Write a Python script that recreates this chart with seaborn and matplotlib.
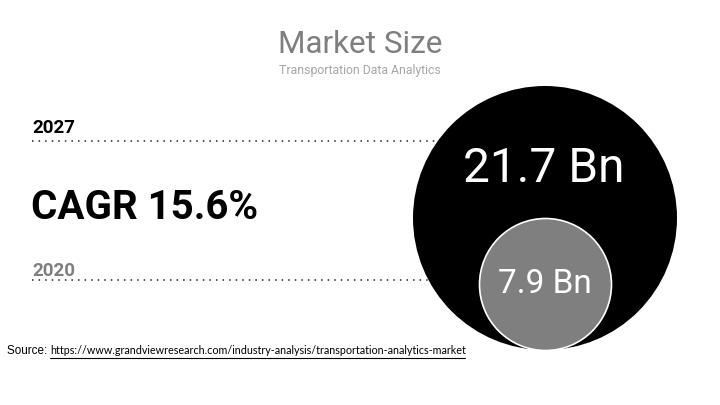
import matplotlib
matplotlib.use("Agg")
import matplotlib.pyplot as plt
import seaborn as sns
import pandas as pd

# ---- data ----
years = ["2020", "2027"]
values = [7.9, 21.7]
value_labels = ["7.9 Bn", "21.7 Bn"]
cagr_label = "CAGR 15.6%"
title = "Market Size"
subtitle = "Transportation Data Analytics"
source_prefix = "Source: "
source_url = "https://www.grandviewresearch.com/industry-analysis/transportation-analytics-market"

df = pd.DataFrame({"year": years, "value": values, "label": value_labels})

sns.set_theme(style="white")
plt.rcParams["font.family"] = ["Roboto", "DejaVu Sans"]

W, H = 720, 405
fig = plt.figure(figsize=(W / 100, H / 100), dpi=100)
ax = fig.add_axes([0, 0, 1, 1])

# layout (pixels)
cx = 545
big_r = 132
small_r = 66
big_cy = 218
bottom = big_cy + big_r
px2pt = 0.72

df["cy"] = [bottom - small_r, big_cy]
df["cx"] = cx
df["diam_pt"] = [2 * small_r * px2pt, 2 * big_r * px2pt]
df["s"] = df["diam_pt"] ** 2

# dotted guide lines (behind circles)
for yy in [141, 280]:
    ax.plot([32, 520], [yy, yy], color="#222222", lw=1.1,
            linestyle=(0, (1, 3.3)), zorder=1)

big = df[df["year"] == "2027"]
small = df[df["year"] == "2020"]
sns.scatterplot(data=big, x="cx", y="cy", s=big["s"].values, color="black",
                edgecolor="none", linewidth=0, ax=ax, zorder=2, legend=False)
sns.scatterplot(data=small, x="cx", y="cy", s=small["s"].values, color="#7f7f7f",
                edgecolor="white", linewidth=1.2, ax=ax, zorder=3, legend=False)
ax.set_xlim(0, W)
ax.set_ylim(H, 0)
ax.axis("off")

# value labels
ax.text(cx - 1, 182, big["label"].iloc[0], color="white", fontsize=34.5,
        ha="center", va="baseline", zorder=4)
ax.text(cx, 293, small["label"].iloc[0], color="white", fontsize=24,
        ha="center", va="baseline", zorder=4)

# titles
ax.text(360, 53, title, color="#7f7f7f", fontsize=22.7, ha="center", va="baseline")
ax.text(360, 74, subtitle, color="#a6a6a6", fontsize=8.8, ha="center", va="baseline")

# left side text
ax.text(32, 133, years[1], color="black", fontsize=13.5, fontweight="bold",
        ha="left", va="baseline")
ax.text(31, 219, cagr_label, color="black", fontsize=29, fontweight="bold",
        ha="left", va="baseline")
ax.text(32, 276, years[0], color="#7f7f7f", fontsize=13.5, fontweight="bold",
        ha="left", va="baseline")

# source
ax.text(7, 354, source_prefix, color="black", fontsize=8.4, family=["Liberation Sans", "DejaVu Sans"],
        ha="left", va="baseline")
ax.text(50, 354, source_url, color="black", fontsize=7.75, family=["Lato", "DejaVu Sans"],
        ha="left", va="baseline")
ax.plot([50, 465], [357.5, 357.5], color="black", lw=0.8)

fig.savefig("out.png", dpi=100)
